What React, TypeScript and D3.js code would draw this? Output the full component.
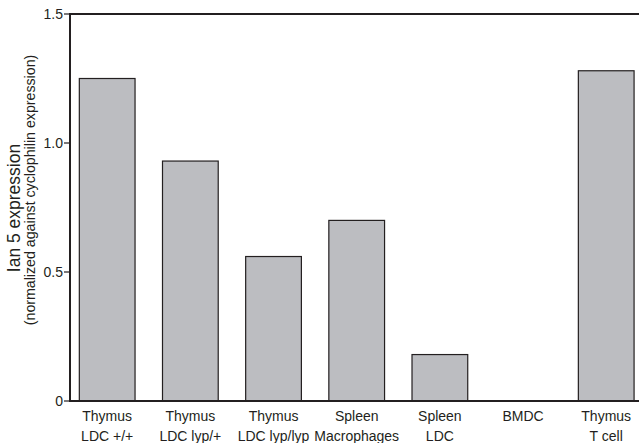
import React from "react";
import * as d3 from "d3";

const categories: string[][] = [
  ["Thymus", "LDC +/+"],
  ["Thymus", "LDC lyp/+"],
  ["Thymus", "LDC lyp/lyp"],
  ["Spleen", "Macrophages"],
  ["Spleen", "LDC"],
  ["BMDC"],
  ["Thymus", "T cell"],
];
const values: number[] = [1.25, 0.93, 0.56, 0.7, 0.18, 0, 1.28];
const yTicks: number[] = [0, 0.5, 1.0, 1.5];
const yTickLabels: string[] = ["0", "0.5", "1.0", "1.5"];
const yTitle = "Ian 5 expression";
const ySubtitle = "(normalized against cyclophilin expression)";

const W = 639;
const H = 443;
const axisX = 70;
const y0 = 401;
const yTop = 14;
const font = "'Liberation Sans', Arial, Helvetica, sans-serif";
const ink = "#231f20";

export default function App() {
  const y = d3.scaleLinear().domain([0, 1.5]).range([y0, yTop]);
  const keys = categories.map((c) => c.join(" "));
  const x = d3
    .scaleBand<string>()
    .domain(keys)
    .range([65.6, 647.8])
    .paddingInner(0.33)
    .paddingOuter(0.165);

  return (
    <svg
      width={W}
      height={H}
      style={{ position: "absolute", left: 0, top: 0, background: "#fff" }}
      fontFamily={font}
    >
      <rect x={0} y={0} width={W} height={H} fill="#fff" />
      {/* bars */}
      {values.map((v, i) =>
        v > 0 ? (
          <rect
            key={i}
            x={x(keys[i])}
            y={y(v)}
            width={x.bandwidth()}
            height={y(0) - y(v)}
            fill="#bcbdc1"
            stroke={ink}
            strokeWidth={1.2}
          />
        ) : null
      )}
      {/* axes lines */}
      <line x1={axisX} x2={W} y1={y(1.5)} y2={y(1.5)} stroke={ink} strokeWidth={2} />
      <line x1={axisX} x2={W} y1={y(0)} y2={y(0)} stroke={ink} strokeWidth={2} />
      <line x1={axisX} x2={axisX} y1={y(1.5) - 1} y2={y(0) + 1} stroke={ink} strokeWidth={2} />
      {/* y ticks */}
      {yTicks.map((t, i) => (
        <g key={t}>
          <line x1={axisX - 6} x2={axisX} y1={y(t)} y2={y(t)} stroke={ink} strokeWidth={1.2} />
          <text
            x={axisX - 7}
            y={y(t)}
            dy="0.36em"
            textAnchor="end"
            fontSize={14}
            fill={ink}
          >
            {yTickLabels[i]}
          </text>
        </g>
      ))}
      {/* x labels */}
      {categories.map((lines, i) => {
        const cx = (x(keys[i]) as number) + x.bandwidth() / 2;
        return (
          <text key={i} x={cx} textAnchor="middle" fontSize={14} fill={ink}>
            {lines.map((l, j) => (
              <tspan key={j} x={cx} y={421 + j * 19.7}>
                {l}
              </tspan>
            ))}
          </text>
        );
      })}
      {/* y title */}
      <text
        transform={`translate(20,208) rotate(-90)`}
        textAnchor="middle"
        fontSize={17.5}
        fill={ink}
      >
        {yTitle}
      </text>
      <text
        transform={`translate(35,190) rotate(-90)`}
        textAnchor="middle"
        fontSize={14.2}
        fill={ink}
      >
        {ySubtitle}
      </text>
    </svg>
  );
}
